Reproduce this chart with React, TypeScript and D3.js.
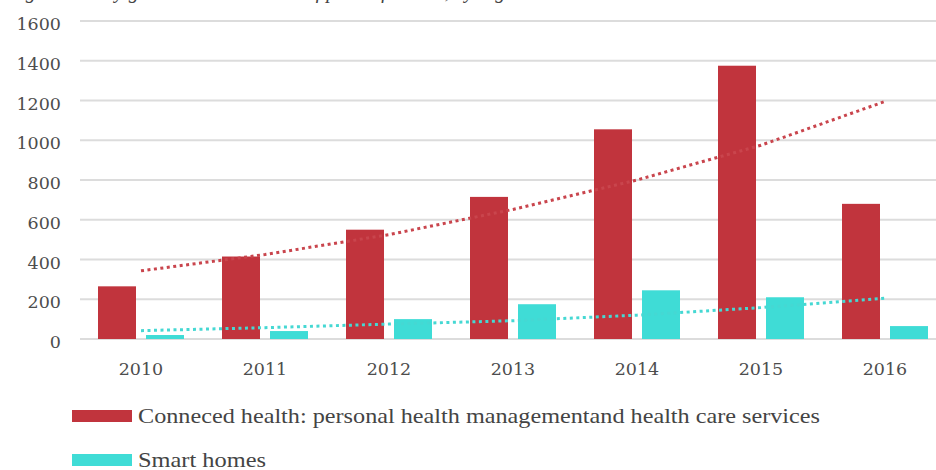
import React from "react";
import * as d3 from "d3";

const years = ["2010", "2011", "2012", "2013", "2014", "2015", "2016"];
const healthValues = [265, 415, 550, 715, 1055, 1375, 680];
const homeValues = [20, 40, 100, 175, 245, 210, 65];
const healthTrend = [343, 425, 525, 652, 800, 975, 1195];
const homeTrend = [42, 57, 75, 92, 120, 158, 205];
const yTicks = [0, 200, 400, 600, 800, 1000, 1200, 1400, 1600];
const legendLabels = [
  "Conneced health: personal health managementand health care services",
  "Smart homes",
];
const titleText = "Figure: Yearly growth in the number of patent families, by segment";

const RED = "#c1343d";
const CYAN = "#3fdcd6";

export default function App() {
  const W = 936;
  const H = 470;
  const y = d3.scaleLinear().domain([0, 1600]).range([339, 21]);
  const x = d3.scaleBand().domain(years).range([79, 947]).paddingInner(0).paddingOuter(0);
  const step = x.bandwidth();
  const barW = 38;
  const gap = 10;
  const center = (yr: string) => (x(yr) as number) + step / 2;

  const line = d3
    .line<number>()
    .x((_, i) => center(years[i]))
    .y((d) => y(d));

  const numFont = "'DejaVu Serif', Georgia, serif";
  return (
    <svg
      width={W}
      height={H}
      style={{ position: "absolute", left: 0, top: 0, background: "#fff" }}
    >
      <text
        x={8}
        y={-2.5}
        fontFamily="'Liberation Serif', serif"
        fontStyle="italic"
        fontSize={20}
        fill="#444"
      >
        {titleText}
      </text>
      {yTicks.map((t) => (
        <g key={t}>
          <line x1={80} x2={936} y1={y(t)} y2={y(t)} stroke="#dcdcdc" strokeWidth={2} />
          <text
            x={61}
            y={y(t) + 3}
            textAnchor="end"
            dominantBaseline="central"
            fontFamily={numFont}
            fontSize={17.5}
            fill="#4d4d4d"
          >
            {t}
          </text>
        </g>
      ))}
      {years.map((yr, i) => (
        <g key={yr}>
          <rect
            x={center(yr) - gap / 2 - barW}
            y={y(healthValues[i])}
            width={barW}
            height={y(0) - y(healthValues[i])}
            fill={RED}
          />
          <rect
            x={center(yr) + gap / 2}
            y={y(homeValues[i])}
            width={barW}
            height={y(0) - y(homeValues[i])}
            fill={CYAN}
          />
          <text
            x={center(yr)}
            y={369}
            textAnchor="middle"
            dominantBaseline="central"
            fontFamily={numFont}
            fontSize={17.5}
            fill="#4d4d4d"
          >
            {yr}
          </text>
        </g>
      ))}
      <path
        d={line(healthTrend) || ""}
        fill="none"
        stroke="#c9454d"
        strokeWidth={3}
        strokeDasharray="3 3.5"
      />
      <path
        d={line(homeTrend) || ""}
        fill="none"
        stroke="#45d8d3"
        strokeWidth={3}
        strokeDasharray="3 3.5"
      />
      {legendLabels.map((lab, i) => (
        <g key={lab} transform={`translate(72, ${416 + i * 44})`}>
          <rect x={0} y={-6} width={60} height={12} fill={i === 0 ? RED : CYAN} />
          <text
            x={66}
            y={0}
            dominantBaseline="central"
            fontFamily="'Liberation Serif', serif"
            fontSize={21}
            fill="#444"
            textLength={i === 0 ? 682 : 128}
            lengthAdjust="spacingAndGlyphs"
          >
            {lab}
          </text>
        </g>
      ))}
    </svg>
  );
}
